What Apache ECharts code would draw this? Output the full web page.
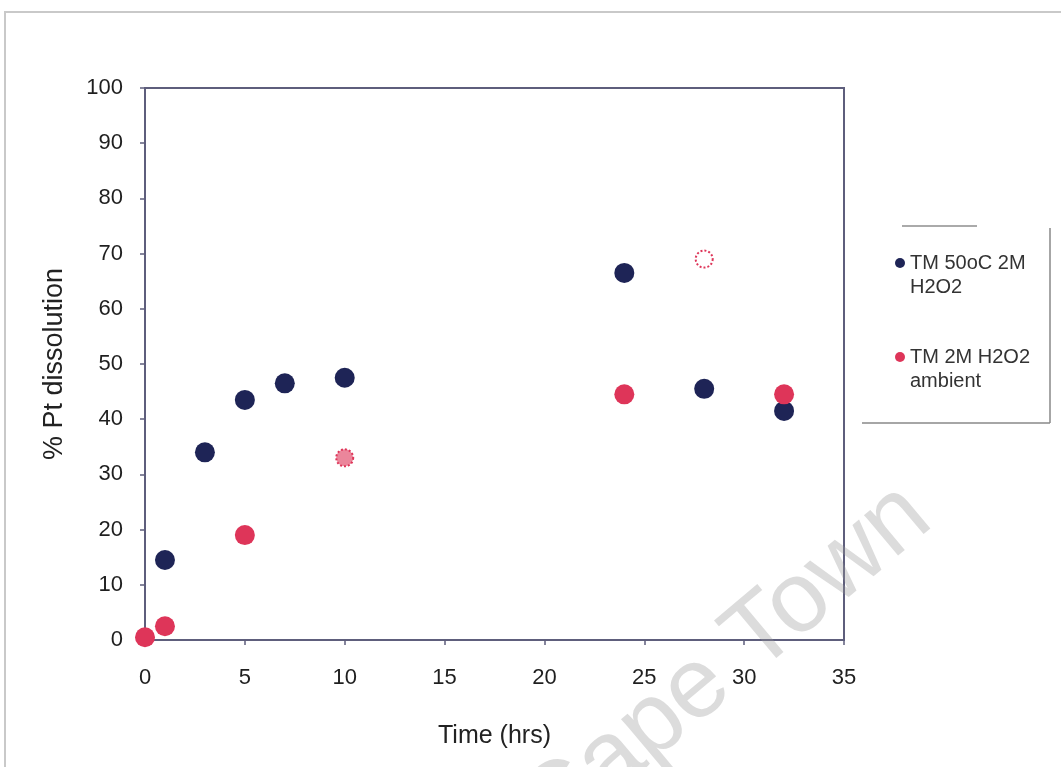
<!DOCTYPE html>
<html>
<head>
<meta charset="utf-8">
<script src="https://cdn.jsdelivr.net/npm/echarts@6/dist/echarts.min.js"></script>
<style>
html,body{margin:0;padding:0;background:#fff;}
#chart{width:1061px;height:767px;}
</style>
</head>
<body>
<div id="chart"></div>
<script>
// ---- data ----
const seriesNames = ['TM 50oC 2M\nH2O2', 'TM 2M H2O2\nambient'];
const blueTime = [1, 3, 5, 7, 10, 24, 28, 32];
const blueDissolution = [14.5, 34, 43.5, 46.5, 47.5, 66.5, 45.5, 41.5];
const redTime = [0, 1, 5, 10, 24, 28, 32];
const redDissolution = [0.5, 2.5, 19, 33, 44.5, 69, 44.5];
const redOpenPointIndex = [3, 5]; // points drawn as dotted (hollow) markers
const xTicks = [0, 5, 10, 15, 20, 25, 30, 35];
const yTicks = [0, 10, 20, 30, 40, 50, 60, 70, 80, 90, 100];
const watermarkText = 'Cape Town';

const BLUE = '#1e2456';
const RED = '#de3559';
const FONT = 'Arial, "Liberation Sans", Helvetica, sans-serif';
const AXIS = '#5e5e7c';

const chart = echarts.init(document.getElementById('chart'), null, {renderer: 'canvas'});

const blueData = blueTime.map((t, i) => [t, blueDissolution[i]]);
const redData = redTime.map((t, i) => {
  const d = {value: [t, redDissolution[i]]};
  if (redOpenPointIndex.includes(i)) {
    d.symbolSize = 17;
    d.itemStyle = {color: i === 3 ? 'rgba(222,53,89,0.6)' : '#fff', borderColor: RED, borderWidth: 2, borderType: 'dotted'};
  }
  return d;
});

chart.setOption({
  backgroundColor: '#fff',
  animation: false,
  textStyle: {fontFamily: FONT},
  grid: {left: 145, top: 88, right: 217, bottom: 127, show: true, borderColor: AXIS, borderWidth: 2, backgroundColor: 'transparent'},
  xAxis: {
    type: 'value', min: xTicks[0], max: xTicks[xTicks.length - 1], interval: 5,
    name: 'Time (hrs)', nameLocation: 'middle', nameGap: 84,
    nameTextStyle: {fontSize: 25, color: '#222', fontFamily: FONT},
    axisLine: {show: true, lineStyle: {color: AXIS, width: 2}},
    axisTick: {show: true, length: 5, lineStyle: {color: AXIS, width: 1.5}},
    axisLabel: {fontSize: 22, color: '#1f1f1f', margin: 27, fontFamily: FONT},
    splitLine: {show: false}
  },
  yAxis: {
    type: 'value', min: yTicks[0], max: yTicks[yTicks.length - 1], interval: 10,
    name: '% Pt dissolution', nameLocation: 'middle', nameGap: 77,
    nameTextStyle: {fontSize: 27, color: '#222', fontFamily: FONT},
    axisLine: {show: true, lineStyle: {color: AXIS, width: 2}},
    axisTick: {show: true, length: 5, lineStyle: {color: AXIS, width: 1.5}},
    axisLabel: {fontSize: 22, color: '#1f1f1f', margin: 22, fontFamily: FONT},
    splitLine: {show: false}
  },
  legend: {
    orient: 'vertical', left: 890, top: 222, icon: 'circle',
    itemWidth: 10, itemHeight: 10, itemGap: 22,
    formatter: name => '\n' + name,
    textStyle: {fontSize: 20, color: '#333', lineHeight: 24, fontFamily: FONT},
    data: seriesNames
  },
  graphic: [
    {type: 'rect', shape: {x: 5, y: 12, width: 1070, height: 780}, style: {fill: 'none', stroke: '#c9c9c9', lineWidth: 2}, z: 100},
    {type: 'line', shape: {x1: 902, y1: 226, x2: 977, y2: 226}, style: {stroke: '#aaa', lineWidth: 2}, z: 100},
    {type: 'line', shape: {x1: 1050, y1: 228, x2: 1050, y2: 423}, style: {stroke: '#888', lineWidth: 1.5}, z: 100},
    {type: 'line', shape: {x1: 862, y1: 423, x2: 1050, y2: 423}, style: {stroke: '#888', lineWidth: 1.5}, z: 100},
    {type: 'text', x: 726, y: 664, rotation: 40 * Math.PI / 180, z: 100,
     style: {text: watermarkText, fontSize: 100, fontFamily: FONT, fill: 'rgba(150,150,150,0.33)', align: 'center', verticalAlign: 'middle'}}
  ],
  series: [
    {name: seriesNames[0], type: 'scatter', data: blueData, symbol: 'circle', symbolSize: 20, itemStyle: {color: BLUE, opacity: 1}, z: 3},
    {name: seriesNames[1], type: 'scatter', data: redData, symbol: 'circle', symbolSize: 20, itemStyle: {color: RED, opacity: 1}, z: 4}
  ]
});
</script>
</body>
</html>
